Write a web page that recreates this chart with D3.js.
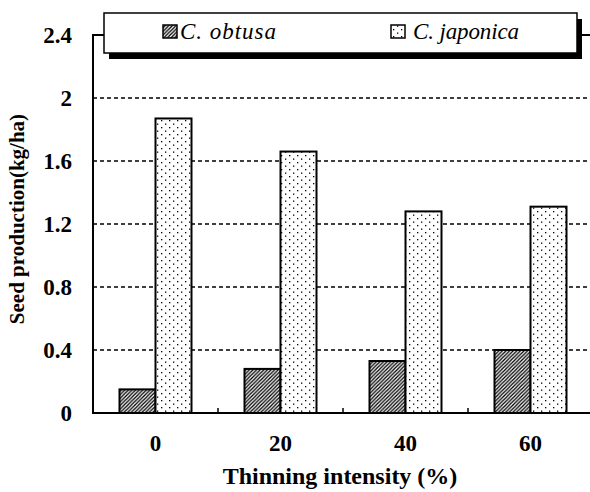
<!DOCTYPE html>
<html>
<head>
<meta charset="utf-8">
<script src="https://cdn.jsdelivr.net/npm/d3@7"></script>
<style>
  body { margin: 0; background: #fff; }
  svg { display: block; }
  .tick text { font-family: "Liberation Serif", "Times New Roman", serif; font-weight: bold; font-size: 23px; fill: #000; }
  .grid line { stroke: #000; stroke-width: 1.4; stroke-dasharray: 4,3; }
  .title { font-family: "Liberation Serif", "Times New Roman", serif; font-weight: bold; fill: #000; }
  .legend text { font-family: "Liberation Serif", "Times New Roman", serif; font-style: italic; font-size: 23px; fill: #000; }
</style>
</head>
<body>
<div class="content"><svg width="590" height="492"></svg></div>
<script>
var categories = ["0", "20", "40", "60"],
    series = ["C. obtusa", "C. japonica"],
    obtusa = [0.15, 0.28, 0.33, 0.40],
    japonica = [1.87, 1.66, 1.28, 1.31],
    yTicks = [0, 0.4, 0.8, 1.2, 1.6, 2, 2.4];

var svg = d3.select("svg");

var plotL = 93, plotR = 593, plotT = 35, plotB = 413;

var x = d3.scaleBand()
    .domain(categories)
    .range([plotL, plotR]);

var y = d3.scaleLinear()
    .domain([0, 2.4])
    .range([plotB, plotT]);

var barW = 36;

// fill patterns
var defs = svg.append("defs");

defs.append("pattern")
    .attr("id", "hatch")
    .attr("patternUnits", "userSpaceOnUse")
    .attr("width", 3.6)
    .attr("height", 3.6)
  .append("path")
    .attr("d", "M-1,1 l2,-2 M0,3.6 l3.6,-3.6 M2.6,4.6 l2,-2")
    .attr("stroke", "#000")
    .attr("stroke-width", 1.3);

var dots = defs.append("pattern")
    .attr("id", "dots")
    .attr("patternUnits", "userSpaceOnUse")
    .attr("width", 8)
    .attr("height", 7);
dots.append("rect").attr("width", 8).attr("height", 7).attr("fill", "#fff");
dots.append("rect").attr("x", 1).attr("y", 1).attr("width", 1.3).attr("height", 1.3).attr("fill", "#000");
dots.append("rect").attr("x", 5).attr("y", 4.5).attr("width", 1.3).attr("height", 1.3).attr("fill", "#000");

// gridlines
svg.append("g")
    .attr("class", "grid")
  .selectAll("line")
    .data(yTicks.filter(function(d) {return d > 0 && d < 2.4;}))
  .enter().append("line")
    .attr("x1", plotL)
    .attr("x2", plotR)
    .attr("y1", function(d) {return y(d);})
    .attr("y2", function(d) {return y(d);});

// bars
var group = svg.selectAll(".cat")
    .data(categories)
  .enter().append("g")
    .attr("class", "cat");

group.append("rect")
    .attr("x", function(d) {return x(d) + x.bandwidth()/2 - barW;})
    .attr("y", function(d,i) {return y(obtusa[i]);})
    .attr("width", barW)
    .attr("height", function(d,i) {return plotB - y(obtusa[i]);})
    .attr("fill", "url(#hatch)")
    .attr("stroke", "#000")
    .attr("stroke-width", 2);

group.append("rect")
    .attr("x", function(d) {return x(d) + x.bandwidth()/2;})
    .attr("y", function(d,i) {return y(japonica[i]);})
    .attr("width", barW)
    .attr("height", function(d,i) {return plotB - y(japonica[i]);})
    .attr("fill", "url(#dots)")
    .attr("stroke", "#000")
    .attr("stroke-width", 2);

// frame
svg.append("path")
    .attr("d", "M" + plotR + "," + plotT + "H" + plotL + "V" + plotB + "H" + plotR)
    .attr("fill", "none")
    .attr("stroke", "#000")
    .attr("stroke-width", 2);

// small ticks between groups
svg.selectAll(".sep")
    .data(categories.slice(1))
  .enter().append("line")
    .attr("class", "sep")
    .attr("x1", function(d) {return x(d);})
    .attr("x2", function(d) {return x(d);})
    .attr("y1", plotB)
    .attr("y2", plotB - 5)
    .attr("stroke", "#000")
    .attr("stroke-width", 1.5);

// axes (labels only)
svg.append("g")
    .attr("transform", "translate(" + plotL + ",0)")
    .call(d3.axisLeft(y).tickValues(yTicks).tickFormat(d3.format("")).tickSize(0).tickPadding(21))
    .call(function(g) {g.select(".domain").remove();});

svg.append("g")
    .attr("transform", "translate(0," + plotB + ")")
    .call(d3.axisBottom(x).tickSize(0).tickPadding(22))
    .call(function(g) {g.select(".domain").remove();});

svg.append("text")
    .attr("class", "title")
    .attr("x", 340)
    .attr("y", 484)
    .attr("text-anchor", "middle")
    .style("font-size", "24px")
    .text("Thinning intensity (%)");

svg.append("text")
    .attr("class", "title")
    .attr("transform", "translate(24,219)rotate(-90)")
    .attr("text-anchor", "middle")
    .style("font-size", "21px")
    .text("Seed production(kg/ha)");

// legend
var legend = svg.append("g").attr("class", "legend");

legend.append("rect")
    .attr("x", 109).attr("y", 19)
    .attr("width", 473).attr("height", 40)
    .attr("fill", "#000");

legend.append("rect")
    .attr("x", 104).attr("y", 13)
    .attr("width", 473).attr("height", 40)
    .attr("fill", "#fff")
    .attr("stroke", "#000")
    .attr("stroke-width", 1.5);

var items = [
  {name: series[0], fill: "url(#hatch)", sx: 163, tx: 180, w: 96},
  {name: series[1], fill: "url(#dots)", sx: 391, tx: 413, w: 106}
];

legend.selectAll(".swatch")
    .data(items)
  .enter().append("rect")
    .attr("class", "swatch")
    .attr("x", function(d) {return d.sx;})
    .attr("y", 25)
    .attr("width", 14)
    .attr("height", 13)
    .attr("fill", function(d) {return d.fill;})
    .attr("stroke", "#000")
    .attr("stroke-width", 1.5);

legend.selectAll(".lab")
    .data(items)
  .enter().append("text")
    .attr("class", "lab")
    .attr("x", function(d) {return d.tx;})
    .attr("y", 39)
    .attr("textLength", function(d) {return d.w;})
    .attr("lengthAdjust", "spacing")
    .text(function(d) {return d.name;});
</script>
</body>
</html>
